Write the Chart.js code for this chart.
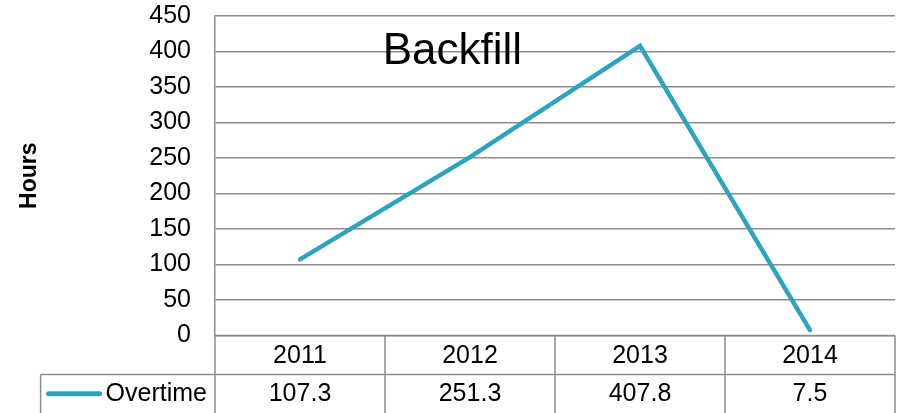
<!DOCTYPE html>
<html>
<head>
<meta charset="utf-8">
<script src="https://cdn.jsdelivr.net/npm/chart.js@4"></script>
<style>
  body { margin: 0; background: #fff; }
  #wrap { width: 897px; height: 413px; position: relative; }
</style>
</head>
<body>
<div id="wrap"><canvas id="chart"></canvas></div>
<script>
const years = ['2011', '2012', '2013', '2014'];
const overtime = [107.3, 251.3, 407.8, 7.5];
const seriesName = 'Overtime';
const chartTitle = 'Backfill';
const yTitle = 'Hours';

const lineColor = '#2ca4c1';
const gridColor = '#8c8c8c';
const fontFamily = '"Liberation Sans", Arial, sans-serif';

// draws the title and the data table under the plot
const tablePlugin = {
    id: 'dataTable',
    afterDraw(chart) {
        const ctx = chart.ctx;
        const area = chart.chartArea;
        const x = chart.scales.x;
        const half = (x.getPixelForValue(1) - x.getPixelForValue(0)) / 2;
        const rowH = 39;
        const top = area.bottom;
        const mid = top + rowH;
        const bottom = chart.height;

        ctx.save();
        ctx.strokeStyle = gridColor;
        ctx.lineWidth = 1.5;

        // legend text size to place the key cell
        ctx.font = '25px ' + fontFamily;
        const textRight = area.left - 8;
        const textW = ctx.measureText(seriesName).width;
        const sampleRight = textRight - textW - 4;
        const sampleLeft = sampleRight - 55;
        const cellLeft = sampleLeft - 6;

        ctx.beginPath();
        // vertical lines
        for (let i = 0; i <= years.length; i++) {
            const px = x.getPixelForValue(i) - half;
            ctx.moveTo(px, top);
            ctx.lineTo(px, bottom);
        }
        ctx.moveTo(cellLeft, mid);
        ctx.lineTo(cellLeft, bottom);
        // horizontal lines
        ctx.moveTo(area.left, top);
        ctx.lineTo(area.right, top);
        ctx.moveTo(cellLeft, mid);
        ctx.lineTo(area.right, mid);
        ctx.stroke();

        ctx.fillStyle = '#000';
        ctx.textAlign = 'center';
        ctx.textBaseline = 'middle';
        years.forEach((y, i) => {
            const px = x.getPixelForValue(i);
            ctx.fillText(y, px, top + rowH / 2 + 1);
            ctx.fillText(String(overtime[i]), px, mid + (bottom - mid) / 2);
        });

        ctx.textAlign = 'right';
        ctx.fillText(seriesName, textRight, mid + (bottom - mid) / 2);

        ctx.strokeStyle = lineColor;
        ctx.lineWidth = 5;
        ctx.lineCap = 'round';
        ctx.beginPath();
        ctx.moveTo(sampleLeft + 2, mid + (bottom - mid) / 2);
        ctx.lineTo(sampleRight - 2, mid + (bottom - mid) / 2);
        ctx.stroke();

        // chart title
        ctx.fillStyle = '#000';
        ctx.font = '44px ' + fontFamily;
        ctx.textAlign = 'center';
        ctx.textBaseline = 'alphabetic';
        ctx.fillText(chartTitle, area.left + area.width * 0.349, 64);
        ctx.restore();
    }
};

new Chart(document.getElementById('chart'), {
    type: 'line',
    data: {
        labels: years,
        datasets: [{
            label: seriesName,
            data: overtime,
            borderColor: lineColor,
            backgroundColor: lineColor,
            borderWidth: 4.5,
            borderCapStyle: 'round',
            pointRadius: 0,
            tension: 0
        }]
    },
    options: {
        responsive: true,
        maintainAspectRatio: false,
        animation: false,
        layout: { padding: { top: 16, right: 2, left: 0, bottom: 0 } },
        plugins: {
            legend: { display: false },
            tooltip: { enabled: false }
        },
        scales: {
            x: {
                type: 'category',
                offset: true,
                grid: { display: false },
                ticks: { display: false },
                border: { display: false },
                afterFit(scale) { scale.height = 77.5; }
            },
            y: {
                min: 0,
                max: 450,
                ticks: {
                    stepSize: 50,
                    color: '#000',
                    padding: 0,
                    font: { size: 25, family: fontFamily }
                },
                // long invisible tick marks give the label gap without extra top padding
                grid: { color: gridColor, lineWidth: 1.5, tickLength: 24, tickColor: 'rgba(0,0,0,0)' },
                border: { display: true, color: gridColor, width: 1.5 },
                title: {
                    display: true,
                    text: yTitle,
                    color: '#000',
                    font: { size: 23, weight: 'bold', family: fontFamily },
                    padding: { top: 16 }
                },
                afterFit(scale) { scale.width = 215; }
            }
        }
    },
    plugins: [tablePlugin]
});
</script>
</body>
</html>
